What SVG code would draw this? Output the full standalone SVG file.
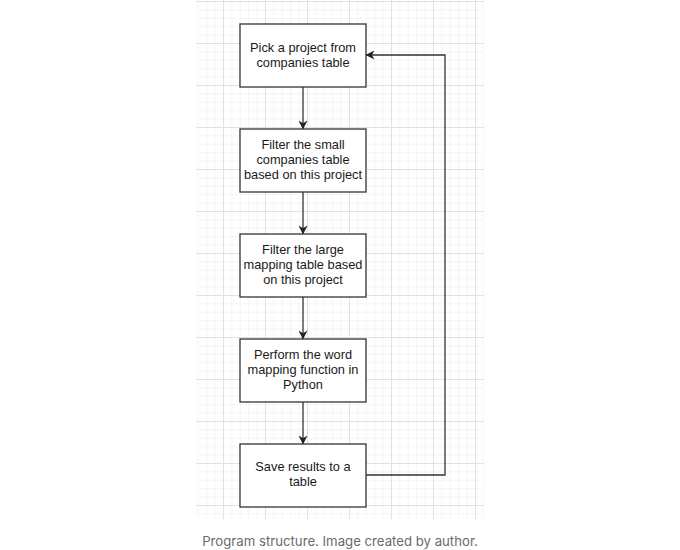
<svg xmlns="http://www.w3.org/2000/svg" width="680" height="550" viewBox="0 0 680 550">
  <defs>
    <pattern id="minor" x="13" y="1" width="8.4" height="8.4" patternUnits="userSpaceOnUse">
      <path d="M0 0.5H8.4M0.5 0V8.4" stroke="#f4f4f4" stroke-width="1" fill="none"/>
    </pattern>
    <pattern id="major" x="13" y="1" width="42" height="42" patternUnits="userSpaceOnUse">
      <path d="M0 0.5H42M0.5 0V42" stroke="#e2e2e2" stroke-width="1" fill="none"/>
    </pattern>
    <marker id="arr" viewBox="0 0 10 10" refX="9.5" refY="5" markerWidth="9" markerHeight="9" markerUnits="userSpaceOnUse" orient="auto">
      <path d="M0 0L10 5L0 10L3 5Z" fill="#222"/>
    </marker>
    <style>
      .box { fill: #ffffff; stroke: #333333; stroke-width: 1.3; }
      .lbl { font-family: "Liberation Sans", Arial, sans-serif; font-size: 12.8px; fill: #1a1a1a; text-anchor: middle; }
      .edge { fill: none; stroke: #333333; stroke-width: 1.3; marker-end: url(#arr); }
      .cap { font-family: "Inter", "Liberation Sans", sans-serif; font-size: 13.2px; fill: #6b6b6b; text-anchor: middle; }
    </style>
  </defs>
  <rect width="680" height="550" fill="#ffffff"/>
  <rect x="196" y="0" width="288" height="519" fill="url(#minor)"/>
  <rect x="196" y="0" width="288" height="519" fill="url(#major)"/>

  <g id="connectors">
    <path class="edge" d="M303 87V129"/>
    <path class="edge" d="M303 192V234"/>
    <path class="edge" d="M303 297V339"/>
    <path class="edge" d="M303 402V444"/>
    <path class="edge" d="M366 475H445V55H366"/>
  </g>

  <g id="n1">
    <rect class="box" x="240" y="24" width="126" height="63"/>
    <text class="lbl" x="303" y="52">Pick a project from</text>
    <text class="lbl" x="303" y="66.5">companies table</text>
  </g>
  <g id="n2">
    <rect class="box" x="240" y="129" width="126" height="63"/>
    <text class="lbl" x="303" y="148.5">Filter the small</text>
    <text class="lbl" x="303" y="163.5">companies table</text>
    <text class="lbl" x="303" y="178.5">based on this project</text>
  </g>
  <g id="n3">
    <rect class="box" x="240" y="234" width="126" height="63"/>
    <text class="lbl" x="303" y="253.5">Filter the large</text>
    <text class="lbl" x="303" y="268.5">mapping table based</text>
    <text class="lbl" x="303" y="283.5">on this project</text>
  </g>
  <g id="n4">
    <rect class="box" x="240" y="339" width="126" height="63"/>
    <text class="lbl" x="303" y="358.5">Perform the word</text>
    <text class="lbl" x="303" y="373.5">mapping function in</text>
    <text class="lbl" x="303" y="388.5">Python</text>
  </g>
  <g id="n5">
    <rect class="box" x="240" y="444" width="126" height="63"/>
    <text class="lbl" x="303" y="471">Save results to a</text>
    <text class="lbl" x="303" y="486">table</text>
  </g>

  <text class="cap" x="340" y="546">Program structure. Image created by author.</text>
</svg>
